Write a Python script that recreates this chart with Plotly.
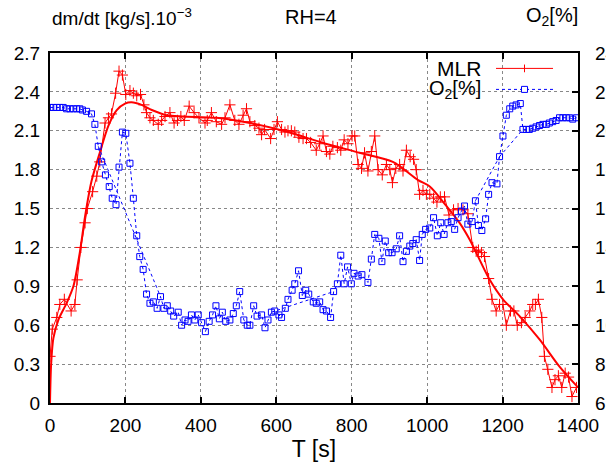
import plotly.graph_objects as go

# MLR raw data (T [s], dm/dt [kg/s].1e-3)
mlr_t = [0, 6, 18, 26, 38, 56, 66, 72, 82, 93, 99, 113, 124, 132, 146, 155, 163, 174, 183, 192,
         201, 212, 221, 230, 240, 249, 256, 265, 274, 287, 296, 305, 318, 329, 338, 347, 356, 369,
         382, 395, 411, 417, 428, 441, 455, 464, 477, 490, 501, 512, 521, 530, 543, 554, 561, 569,
         585, 594, 603, 614, 623, 631, 640, 649, 660, 671, 680, 691, 706, 715, 724, 733, 742, 750,
         762, 771, 780, 790, 801, 808, 817, 826, 834, 843, 852, 861, 870, 881, 892, 901, 908, 917,
         927, 936, 945, 955, 964, 971, 980, 989, 998, 1007, 1017, 1026, 1035, 1046, 1058, 1070,
         1082, 1095, 1108, 1121, 1130, 1136, 1144, 1152, 1163, 1172, 1183, 1192, 1201, 1210, 1221,
         1230, 1239, 1250, 1260, 1272, 1280, 1287, 1295, 1304, 1311, 1320, 1331, 1339, 1348, 1357,
         1366, 1375, 1384, 1396]
mlr_v = [0.36, 0.57, 0.66, 0.76, 0.80, 0.71, 0.76, 0.95, 1.20, 1.39, 1.50, 1.63, 1.75, 1.86, 2.16,
         2.20, 2.23, 2.39, 2.56, 2.53, 2.38, 2.41, 2.39, 2.37, 2.38, 2.30, 2.24, 2.20, 2.18, 2.15,
         2.18, 2.21, 2.24, 2.16, 2.18, 2.21, 2.18, 2.29, 2.24, 2.20, 2.16, 2.18, 2.24, 2.17, 2.15,
         2.20, 2.30, 2.18, 2.15, 2.22, 2.27, 2.17, 2.14, 2.12, 2.07, 2.11, 2.04, 2.11, 2.17, 2.11,
         2.09, 2.10, 2.10, 2.09, 2.05, 2.04, 2.04, 2.01, 1.95, 2.00, 2.06, 1.94, 1.92, 1.98, 1.97,
         1.95, 2.03, 2.00, 2.06, 2.06, 1.84, 1.81, 1.93, 1.79, 1.94, 2.06, 1.80, 1.76, 1.84, 1.80,
         1.70, 1.81, 1.84, 1.79, 1.95, 1.90, 1.88, 1.80, 1.61, 1.64, 1.61, 1.61, 1.58, 1.55, 1.59,
         1.59, 1.45, 1.49, 1.50, 1.49, 1.46, 1.20, 1.17, 1.18, 1.16, 1.13, 0.96, 0.80, 0.71, 0.76,
         0.76, 0.60, 0.71, 0.71, 0.60, 0.62, 0.66, 0.71, 0.76, 0.76, 0.80, 0.66, 0.36, 0.26, 0.12,
         0.18, 0.21, 0.12, 0.23, 0.20, 0.05, 0.12]

# MLR smoothed fit
fit_t = [0, 3, 9, 22, 44, 62, 79, 93, 110, 132, 155, 177, 199, 216, 243, 270, 309, 353, 441, 530,
         631, 720, 821, 909, 976, 1007, 1051, 1086, 1113, 1166, 1201, 1245, 1298, 1351, 1400]
fit_v = [0.0, 0.30, 0.50, 0.64, 0.77, 0.90, 1.16, 1.44, 1.71, 1.93, 2.14, 2.26, 2.31, 2.32, 2.30,
         2.26, 2.22, 2.21, 2.20, 2.16, 2.09, 2.01, 1.93, 1.86, 1.72, 1.67, 1.52, 1.39, 1.26, 0.95,
         0.80, 0.67, 0.49, 0.28, 0.12]

# O2 concentration [%]
o2_t = [0, 9, 18, 26, 35, 44, 53, 62, 71, 79, 86, 97, 110, 119, 128, 137, 147, 157, 165, 175, 183,
        192, 201, 212, 221, 230, 238, 247, 256, 265, 274, 284, 293, 302, 311, 320, 328, 340, 349,
        358, 366, 375, 384, 393, 402, 412, 422, 431, 440, 449, 457, 466, 477, 486, 494, 503, 514,
        523, 530, 540, 549, 561, 570, 578, 587, 596, 607, 614, 624, 631, 642, 649, 659, 669, 678,
        686, 698, 706, 715, 724, 733, 744, 752, 762, 771, 780, 789, 799, 806, 817, 827, 843, 852,
        861, 872, 880, 889, 898, 907, 918, 927, 936, 945, 954, 962, 971, 980, 987, 996, 1007, 1017,
        1027, 1036, 1045, 1055, 1064, 1073, 1082, 1091, 1099, 1108, 1119, 1128, 1136, 1145, 1155,
        1163, 1172, 1185, 1192, 1201, 1210, 1219, 1227, 1236, 1247, 1254, 1263, 1271, 1280, 1289,
        1298, 1307, 1316, 1324, 1333, 1342, 1351, 1360, 1369, 1378, 1386, 1396]
o2_v = [21.2, 21.2, 21.2, 21.2, 21.2, 21.13, 21.13, 21.13, 21.13, 21.13, 21.07, 21.0, 20.87, 20.33,
        19.2, 18.4, 17.73, 17.13, 16.53, 16.2, 18.13, 19.93, 19.87, 18.33, 16.53, 14.6, 13.53, 12.87,
        11.6, 11.13, 11.2, 10.87, 11.47, 10.87, 11.0, 10.73, 10.47, 10.67, 10.0, 10.27, 10.2, 10.53,
        10.27, 10.53, 10.13, 9.67, 10.2, 10.53, 11.0, 10.33, 10.67, 10.2, 10.27, 10.6, 11.0, 11.73,
        10.27, 10.0, 10.0, 11.0, 10.47, 10.53, 9.87, 10.27, 10.67, 10.73, 10.53, 10.4, 10.87, 11.33,
        11.8, 12.13, 12.8, 11.53, 11.8, 11.6, 11.2, 11.13, 11.2, 10.8, 10.73, 10.4, 11.73, 12.13,
        13.6, 12.13, 13.0, 12.13, 12.67, 12.53, 12.6, 12.2, 13.4, 14.67, 14.47, 13.27, 14.33, 13.73,
        13.73, 13.93, 14.6, 13.27, 13.8, 14.07, 14.2, 14.4, 13.33, 14.67, 14.93, 15.0, 15.53, 14.6,
        15.27, 14.67, 15.27, 15.33, 14.93, 15.53, 15.87, 16.13, 15.2, 15.33, 16.4, 15.13, 14.87,
        15.47, 16.73, 17.33, 17.27, 18.67, 19.73, 20.8, 21.13, 21.27, 21.33, 21.4, 20.07, 20.07,
        20.07, 20.13, 20.2, 20.27, 20.33, 20.33, 20.4, 20.47, 20.53, 20.67, 20.67, 20.67, 20.67,
        20.6, 20.67]

# Out-of-order connections in the O2 record (pairs of sample times that the logger joined)
o2_links = [(128, 293), (587, 752), (1128, 1192), (1192, 1254)]

x_ticks = [0, 200, 400, 600, 800, 1000, 1200, 1400]
y_ticks = [0, 0.3, 0.6, 0.9, 1.2, 1.5, 1.8, 2.1, 2.4, 2.7]
y_ticklabels = ["0", "0.3", "0.6", "0.9", "1.2", "1.5", "1.8", "2.1", "2.4", "2.7"]
y2_ticks = [6, 8, 10, 12, 14, 16, 18, 20, 22, 24]

FONT = "Liberation Sans, Arial, sans-serif"
RED = "#ff0000"
BLUE = "#0000ff"

link_x, link_y = [], []
for a, b in o2_links:
    ia, ib = o2_t.index(a), o2_t.index(b)
    link_x += [o2_t[ia], o2_t[ib], None]
    link_y += [o2_v[ia], o2_v[ib], None]

fig = go.Figure()
fig.add_trace(go.Scatter(
    x=fit_t, y=fit_v, mode="lines", line=dict(color=RED, width=2, shape="spline", smoothing=0.8),
    showlegend=False, hoverinfo="skip"))
fig.add_trace(go.Scatter(
    x=mlr_t, y=mlr_v, mode="lines+markers", name="MLR", showlegend=False,
    line=dict(color=RED, width=1),
    marker=dict(symbol="cross-thin-open", size=8, line=dict(color=RED, width=1))))
fig.add_trace(go.Scatter(
    x=link_x, y=link_y, mode="lines", yaxis="y2", showlegend=False, hoverinfo="skip",
    connectgaps=False, line=dict(color=BLUE, width=1, dash="dot")))
fig.add_trace(go.Scatter(
    x=o2_t, y=o2_v, mode="lines+markers", name="O<sub>2</sub>[%]", yaxis="y2", showlegend=False,
    line=dict(color=BLUE, width=1, dash="dot"),
    marker=dict(symbol="square-open", size=6, color=BLUE, line=dict(color=BLUE, width=1))))

# gnuplot-style key (text left of sample), drawn in paper coordinates
key_x_text = 0.820
key_x0, key_x1, key_xm = 0.8447, 0.9527, 0.8987
key_y_mlr, key_y_o2 = 0.956, 0.896
shapes = [
    dict(type="line", xref="paper", yref="paper", x0=key_x0, x1=key_x1, y0=key_y_mlr, y1=key_y_mlr,
         line=dict(color=RED, width=1)),
    dict(type="line", xref="paper", yref="paper", x0=key_xm, x1=key_xm, y0=key_y_mlr - 0.011,
         y1=key_y_mlr + 0.011, line=dict(color=RED, width=1)),
    dict(type="line", xref="paper", yref="paper", x0=key_x0, x1=key_x1, y0=key_y_o2, y1=key_y_o2,
         line=dict(color=BLUE, width=1, dash="dot")),
    dict(type="rect", xref="paper", yref="paper", x0=key_xm - 0.0057, x1=key_xm + 0.0057,
         y0=key_y_o2 - 0.0086, y1=key_y_o2 + 0.0086, fillcolor="white",
         line=dict(color=BLUE, width=1)),
]

grid = dict(showgrid=True, gridcolor="#888888", gridwidth=1, griddash="dot")
fig.update_layout(
    width=606, height=470,
    margin=dict(l=50, r=28, t=53, b=67),
    paper_bgcolor="white", plot_bgcolor="white",
    font=dict(family=FONT, size=19, color="black"),
    showlegend=False,
    xaxis=dict(range=[0, 1400], tickvals=x_ticks, ticks="inside", ticklen=6, tickwidth=1.5,
               tickcolor="black", showline=True, linecolor="black", linewidth=2, mirror="ticks",
               zeroline=False, automargin=False, ticklabelstandoff=4,
               title=dict(text="T [s]", font=dict(size=23), standoff=6), **grid),
    yaxis=dict(range=[0, 2.7], tickvals=y_ticks, ticktext=y_ticklabels, ticks="",
               showline=True, linecolor="black", linewidth=2, mirror=True, zeroline=False,
               automargin=False, ticklabelstandoff=4, **grid),
    yaxis2=dict(range=[6, 24], tickvals=y2_ticks, overlaying="y", side="right", ticks="inside",
                ticklen=6, tickwidth=1.5, tickcolor="black", showgrid=False, zeroline=False,
                showline=False, automargin=False, ticklabelstandoff=16),
    shapes=shapes,
    annotations=[
        dict(text="dm/dt [kg/s].10<sup>\u22123</sup>", xref="paper", yref="paper", x=0.0, y=1.103,
             xanchor="left", yanchor="middle", showarrow=False, font=dict(size=19)),
        dict(text="RH=4", xref="paper", yref="paper", x=0.494, y=1.103,
             xanchor="center", yanchor="middle", showarrow=False, font=dict(size=20)),
        dict(text="O<sub>2</sub>[%]", xref="paper", yref="paper", x=1.004, y=1.103,
             xanchor="right", yanchor="middle", showarrow=False, font=dict(size=20)),
        dict(text="MLR", xref="paper", yref="paper", x=key_x_text, y=key_y_mlr,
             xanchor="right", yanchor="middle", showarrow=False, font=dict(size=21)),
        dict(text="O<sub>2</sub>[%]", xref="paper", yref="paper", x=key_x_text, y=key_y_o2,
             xanchor="right", yanchor="middle", showarrow=False, font=dict(size=20)),
    ],
)

fig.write_html("out.html", config={"displayModeBar": False},
               post_script="document.body.style.margin='0';")
